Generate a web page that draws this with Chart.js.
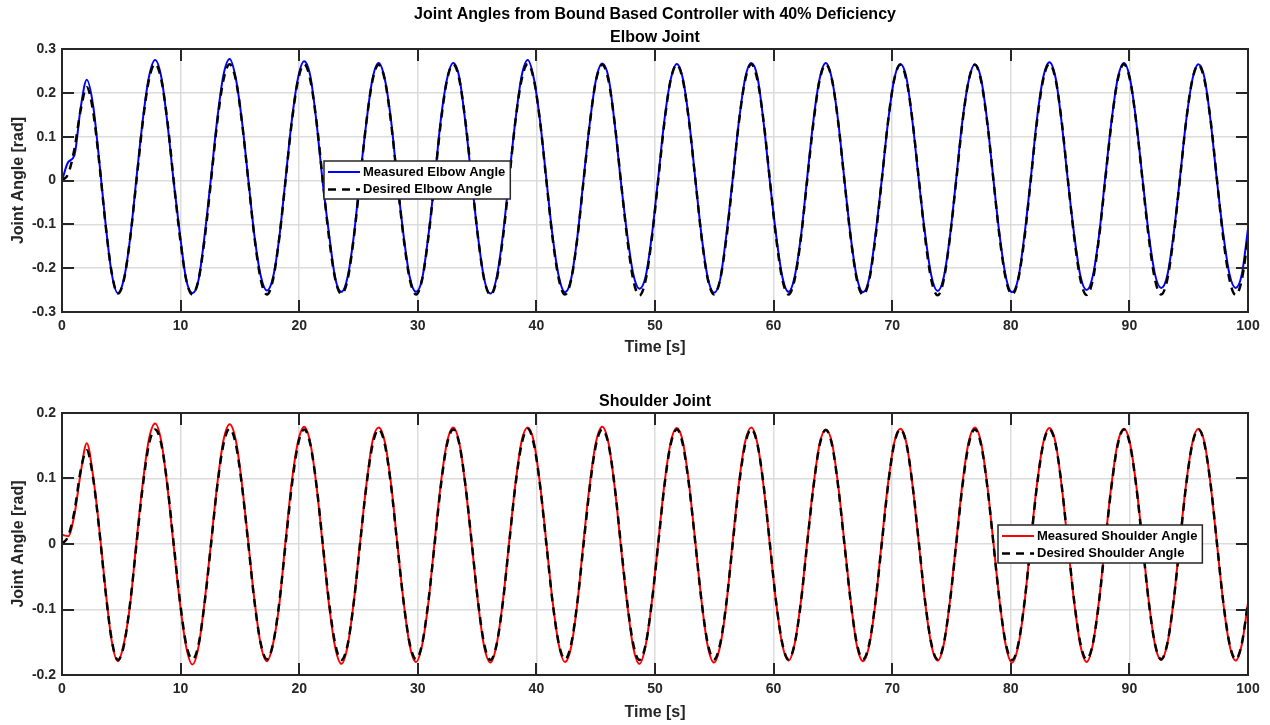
<!DOCTYPE html>
<html>
<head>
<meta charset="utf-8">
<script src="https://cdn.jsdelivr.net/npm/chart.js@4.4.1/dist/chart.umd.min.js"></script>
<style>
  body { margin: 0; background: #fff; width: 1270px; height: 725px; overflow: hidden; }
  .panel { position: absolute; left: 0; width: 1270px; }
  #top { top: 0; height: 365px; }
  #bottom { top: 365px; height: 360px; }
</style>
</head>
<body>
<div class="panel" id="top"><canvas id="elbowChart" width="1270" height="365"></canvas></div>
<div class="panel" id="bottom"><canvas id="shoulderChart" width="1270" height="360"></canvas></div>
<script>
// sample times [s], 12 samples per cycle
const time = [
  0, 0.52, 1.05, 1.57, 2.09, 2.62, 3.14, 3.67, 4.19, 4.71, 5.24, 5.76,
  6.28, 6.81, 7.33, 7.85, 8.38, 8.90, 9.42, 9.95, 10.47, 11.00, 11.52, 12.04,
  12.57, 13.09, 13.61, 14.14, 14.66, 15.18, 15.71, 16.23, 16.76, 17.28, 17.80, 18.33,
  18.85, 19.37, 19.90, 20.42, 20.94, 21.47, 21.99, 22.51, 23.04, 23.56, 24.09, 24.61,
  25.13, 25.66, 26.18, 26.70, 27.23, 27.75, 28.27, 28.80, 29.32, 29.85, 30.37, 30.89,
  31.42, 31.94, 32.46, 32.99, 33.51, 34.03, 34.56, 35.08, 35.60, 36.13, 36.65, 37.18,
  37.70, 38.22, 38.75, 39.27, 39.79, 40.32, 40.84, 41.36, 41.89, 42.41, 42.94, 43.46,
  43.98, 44.51, 45.03, 45.55, 46.08, 46.60, 47.12, 47.65, 48.17, 48.69, 49.22, 49.74,
  50.27, 50.79, 51.31, 51.84, 52.36, 52.88, 53.41, 53.93, 54.45, 54.98, 55.50, 56.03,
  56.55, 57.07, 57.60, 58.12, 58.64, 59.17, 59.69, 60.21, 60.74, 61.26, 61.78, 62.31,
  62.83, 63.36, 63.88, 64.40, 64.93, 65.45, 65.97, 66.50, 67.02, 67.54, 68.07, 68.59,
  69.12, 69.64, 70.16, 70.69, 71.21, 71.73, 72.26, 72.78, 73.30, 73.83, 74.35, 74.87,
  75.40, 75.92, 76.45, 76.97, 77.49, 78.02, 78.54, 79.06, 79.59, 80.11, 80.63, 81.16,
  81.68, 82.20, 82.73, 83.25, 83.78, 84.30, 84.82, 85.35, 85.87, 86.39, 86.92, 87.44,
  87.96, 88.49, 89.01, 89.54, 90.06, 90.58, 91.11, 91.63, 92.15, 92.68, 93.20, 93.72,
  94.25, 94.77, 95.30, 95.82, 96.34, 96.87, 97.39, 97.91, 98.44, 98.96, 99.48, 100.00
];

const elbowMeasured = [
  0.000, 0.042, 0.058, 0.165, 0.230, 0.172, 0.045, -0.098, -0.212, -0.257, -0.222, -0.128,
  0.006, 0.138, 0.236, 0.275, 0.235, 0.128, -0.004, -0.124, -0.226, -0.257, -0.226, -0.122,
  0.008, 0.140, 0.240, 0.277, 0.232, 0.134, 0.002, -0.127, -0.218, -0.251, -0.220, -0.128,
  0.004, 0.136, 0.234, 0.272, 0.238, 0.130, -0.006, -0.121, -0.223, -0.254, -0.219, -0.125,
  0.006, 0.132, 0.232, 0.268, 0.230, 0.136, 0.000, -0.125, -0.220, -0.254, -0.224, -0.126,
  0.002, 0.139, 0.231, 0.268, 0.234, 0.128, -0.004, -0.129, -0.225, -0.258, -0.221, -0.123,
  0.007, 0.135, 0.238, 0.275, 0.232, 0.133, 0.003, -0.126, -0.219, -0.255, -0.223, -0.127,
  0.004, 0.133, 0.231, 0.267, 0.235, 0.130, -0.002, -0.122, -0.214, -0.247, -0.218, -0.124,
  0.006, 0.137, 0.229, 0.266, 0.231, 0.135, 0.001, -0.127, -0.222, -0.256, -0.225, -0.121,
  0.003, 0.134, 0.233, 0.268, 0.236, 0.129, -0.003, -0.124, -0.220, -0.254, -0.219, -0.126,
  0.006, 0.138, 0.232, 0.268, 0.230, 0.134, 0.002, -0.128, -0.221, -0.255, -0.222, -0.123,
  0.002, 0.132, 0.230, 0.266, 0.233, 0.130, -0.004, -0.123, -0.217, -0.252, -0.220, -0.127,
  0.005, 0.136, 0.228, 0.265, 0.232, 0.133, 0.001, -0.126, -0.221, -0.255, -0.223, -0.122,
  0.004, 0.139, 0.235, 0.270, 0.234, 0.129, -0.002, -0.125, -0.218, -0.250, -0.217, -0.125,
  0.006, 0.135, 0.232, 0.268, 0.231, 0.134, 0.003, -0.122, -0.213, -0.245, -0.216, -0.124,
  0.003, 0.133, 0.229, 0.265, 0.233, 0.130, -0.002, -0.121, -0.214, -0.245, -0.214, -0.110
];

const elbowDesired = [
  0.000, 0.015, 0.072, 0.160, 0.213, 0.158, 0.041, -0.100, -0.210, -0.258, -0.224, -0.129,
  0.000, 0.133, 0.230, 0.266, 0.229, 0.132, -0.001, -0.130, -0.226, -0.260, -0.225, -0.130,
  0.001, 0.133, 0.229, 0.265, 0.229, 0.132, 0.000, -0.130, -0.226, -0.260, -0.225, -0.129,
  0.000, 0.132, 0.229, 0.265, 0.229, 0.132, 0.000, -0.129, -0.225, -0.259, -0.225, -0.129,
  0.000, 0.132, 0.228, 0.264, 0.228, 0.131, 0.000, -0.130, -0.225, -0.260, -0.225, -0.130,
  0.000, 0.132, 0.229, 0.265, 0.229, 0.132, 0.000, -0.130, -0.226, -0.261, -0.226, -0.130,
  0.000, 0.133, 0.230, 0.266, 0.230, 0.132, 0.000, -0.130, -0.225, -0.260, -0.225, -0.130,
  0.000, 0.132, 0.229, 0.264, 0.228, 0.131, 0.000, -0.130, -0.227, -0.262, -0.226, -0.130,
  0.000, 0.132, 0.228, 0.264, 0.228, 0.132, 0.000, -0.130, -0.225, -0.260, -0.225, -0.129,
  0.000, 0.132, 0.229, 0.265, 0.229, 0.132, 0.000, -0.130, -0.226, -0.260, -0.225, -0.130,
  0.000, 0.132, 0.229, 0.265, 0.229, 0.132, 0.000, -0.130, -0.226, -0.261, -0.226, -0.130,
  0.000, 0.132, 0.229, 0.264, 0.228, 0.132, 0.000, -0.131, -0.227, -0.262, -0.226, -0.130,
  0.000, 0.132, 0.228, 0.264, 0.228, 0.131, 0.000, -0.130, -0.226, -0.260, -0.225, -0.130,
  0.000, 0.133, 0.230, 0.266, 0.230, 0.133, 0.000, -0.130, -0.226, -0.261, -0.226, -0.130,
  0.000, 0.132, 0.229, 0.265, 0.229, 0.132, 0.000, -0.130, -0.225, -0.260, -0.225, -0.130,
  0.000, 0.132, 0.229, 0.264, 0.228, 0.132, 0.000, -0.130, -0.226, -0.261, -0.226, -0.130
];

const shoulderMeasured = [
  0.014, 0.012, 0.045, 0.108, 0.154, 0.104, 0.024, -0.070, -0.148, -0.179, -0.150, -0.090,
  0.004, 0.093, 0.160, 0.184, 0.156, 0.085, -0.004, -0.091, -0.157, -0.184, -0.156, -0.085,
  0.003, 0.091, 0.158, 0.183, 0.158, 0.090, 0.002, -0.086, -0.154, -0.179, -0.152, -0.091,
  0.005, 0.094, 0.156, 0.179, 0.154, 0.087, -0.003, -0.092, -0.158, -0.183, -0.155, -0.087,
  0.002, 0.090, 0.157, 0.178, 0.155, 0.091, 0.001, -0.088, -0.155, -0.180, -0.154, -0.090,
  0.004, 0.092, 0.155, 0.178, 0.153, 0.086, -0.002, -0.090, -0.157, -0.181, -0.153, -0.086,
  0.003, 0.090, 0.157, 0.178, 0.156, 0.089, 0.002, -0.087, -0.154, -0.180, -0.156, -0.089,
  0.005, 0.093, 0.156, 0.179, 0.154, 0.087, -0.003, -0.091, -0.158, -0.183, -0.154, -0.087,
  0.002, 0.091, 0.154, 0.177, 0.155, 0.090, 0.001, -0.088, -0.156, -0.181, -0.155, -0.090,
  0.004, 0.092, 0.156, 0.178, 0.153, 0.086, -0.002, -0.089, -0.154, -0.178, -0.152, -0.086,
  0.003, 0.089, 0.153, 0.175, 0.154, 0.089, 0.002, -0.087, -0.155, -0.179, -0.154, -0.089,
  0.004, 0.091, 0.154, 0.176, 0.153, 0.087, -0.002, -0.090, -0.154, -0.178, -0.153, -0.087,
  0.003, 0.092, 0.156, 0.178, 0.155, 0.089, 0.001, -0.088, -0.156, -0.181, -0.155, -0.089,
  0.004, 0.090, 0.154, 0.177, 0.154, 0.087, -0.002, -0.090, -0.155, -0.180, -0.153, -0.086,
  0.003, 0.091, 0.154, 0.176, 0.153, 0.089, 0.002, -0.087, -0.153, -0.177, -0.152, -0.088,
  0.004, 0.090, 0.154, 0.176, 0.154, 0.087, -0.001, -0.089, -0.154, -0.178, -0.153, -0.090
];

const shoulderDesired = [
  0.000, 0.012, 0.050, 0.112, 0.143, 0.101, 0.022, -0.072, -0.146, -0.177, -0.153, -0.088,
  0.000, 0.088, 0.152, 0.175, 0.152, 0.088, 0.000, -0.088, -0.153, -0.176, -0.153, -0.088,
  0.000, 0.088, 0.152, 0.176, 0.152, 0.088, 0.000, -0.088, -0.152, -0.176, -0.152, -0.088,
  0.000, 0.088, 0.152, 0.175, 0.152, 0.088, 0.000, -0.088, -0.153, -0.177, -0.153, -0.088,
  0.000, 0.088, 0.151, 0.175, 0.151, 0.088, 0.000, -0.088, -0.152, -0.176, -0.152, -0.088,
  0.000, 0.088, 0.152, 0.175, 0.152, 0.088, 0.000, -0.088, -0.153, -0.177, -0.153, -0.088,
  0.000, 0.088, 0.152, 0.176, 0.152, 0.088, 0.000, -0.088, -0.152, -0.176, -0.152, -0.088,
  0.000, 0.088, 0.152, 0.175, 0.152, 0.088, 0.000, -0.088, -0.153, -0.177, -0.153, -0.088,
  0.000, 0.088, 0.151, 0.175, 0.151, 0.088, 0.000, -0.088, -0.152, -0.176, -0.152, -0.088,
  0.000, 0.088, 0.152, 0.175, 0.152, 0.088, 0.000, -0.088, -0.152, -0.176, -0.152, -0.088,
  0.000, 0.087, 0.151, 0.174, 0.151, 0.087, 0.000, -0.088, -0.152, -0.176, -0.152, -0.088,
  0.000, 0.088, 0.152, 0.175, 0.152, 0.088, 0.000, -0.088, -0.152, -0.176, -0.152, -0.088,
  0.000, 0.088, 0.152, 0.175, 0.152, 0.088, 0.000, -0.088, -0.153, -0.177, -0.153, -0.088,
  0.000, 0.088, 0.152, 0.175, 0.152, 0.088, 0.000, -0.088, -0.152, -0.176, -0.152, -0.088,
  0.000, 0.088, 0.151, 0.175, 0.151, 0.088, 0.000, -0.088, -0.152, -0.176, -0.152, -0.088,
  0.000, 0.088, 0.152, 0.175, 0.152, 0.088, 0.000, -0.088, -0.152, -0.176, -0.152, -0.089
];

const timeTicks = [0, 10, 20, 30, 40, 50, 60, 70, 80, 90, 100];
const elbowTicks = [-0.3, -0.2, -0.1, 0, 0.1, 0.2, 0.3];
const shoulderTicks = [-0.2, -0.1, 0, 0.1, 0.2];

const FONT = "'Liberation Sans', Arial, Helvetica, sans-serif";
const AXIS_COLOR = '#262626';
const GRID_COLOR = '#dcdcdc';

Chart.defaults.font.family = FONT;

// MATLAB-like box, inward ticks, titles and legend
const matlabAxes = {
    id: 'matlabAxes',
    afterDatasetsDraw(chart, args, opts) {
        const { ctx, chartArea: a, scales: { x, y } } = chart;
        ctx.save();
        ctx.strokeStyle = AXIS_COLOR;
        ctx.lineWidth = 2;
        ctx.beginPath();
        x.ticks.forEach(t => {
            const px = Math.round(x.getPixelForValue(t.value));
            ctx.moveTo(px, a.bottom); ctx.lineTo(px, a.bottom - 12);
            ctx.moveTo(px, a.top); ctx.lineTo(px, a.top + 12);
        });
        y.ticks.forEach(t => {
            const py = Math.round(y.getPixelForValue(t.value));
            ctx.moveTo(a.left, py); ctx.lineTo(a.left + 12, py);
            ctx.moveTo(a.right, py); ctx.lineTo(a.right - 12, py);
        });
        ctx.stroke();
        ctx.strokeRect(a.left, a.top, a.right - a.left, a.bottom - a.top);
        ctx.restore();
    },
    afterDraw(chart, args, opts) {
        const { ctx, chartArea: a } = chart;
        ctx.save();
        // titles
        ctx.fillStyle = '#000';
        ctx.font = 'bold 16px ' + FONT;
        ctx.textAlign = 'center';
        ctx.textBaseline = 'middle';
        const cx = (a.left + a.right) / 2;
        opts.titles.forEach(t => ctx.fillText(t.text, cx, t.y));

        // legend
        const lg = opts.legend;
        ctx.font = 'bold 13px ' + FONT;
        const textW = Math.max(...lg.items.map(it => ctx.measureText(it.label).width));
        const bx = a.left + lg.dx, by = a.top + lg.dy;
        const bw = 39 + textW + 5, bh = 38;
        ctx.fillStyle = '#fff';
        ctx.fillRect(bx, by, bw, bh);
        ctx.strokeStyle = AXIS_COLOR;
        ctx.lineWidth = 1.5;
        ctx.strokeRect(bx, by, bw, bh);
        lg.items.forEach((it, i) => {
            const ry = by + 11 + i * 17.5;
            ctx.strokeStyle = it.color;
            ctx.lineWidth = it.width;
            ctx.setLineDash(it.dash);
            ctx.beginPath();
            ctx.moveTo(bx + 4, ry);
            ctx.lineTo(bx + 36, ry);
            ctx.stroke();
            ctx.setLineDash([]);
            ctx.fillStyle = '#000';
            ctx.textAlign = 'left';
            ctx.textBaseline = 'middle';
            ctx.fillText(it.label, bx + 39, ry);
        });
        ctx.restore();
    }
};

function series(values) {
    return time.map((t, i) => ({ x: t, y: values[i] }));
}

function makeChart(id, cfg) {
    return new Chart(document.getElementById(id), {
        type: 'line',
        data: {
            datasets: [{
                label: cfg.measuredLabel,
                data: series(cfg.measured),
                borderColor: cfg.color,
                borderWidth: 2,
                order: 1
            }, {
                label: cfg.desiredLabel,
                data: series(cfg.desired),
                borderColor: '#000',
                borderWidth: 2.5,
                borderDash: [8, 6],
                order: 0
            }]
        },
        options: {
            responsive: false,
            animation: false,
            events: [],
            elements: {
                point: { radius: 0 },
                line: { cubicInterpolationMode: 'monotone', fill: false }
            },
            layout: { padding: cfg.padding },
            plugins: {
                legend: { display: false },
                tooltip: { enabled: false },
                matlabAxes: { titles: cfg.titles, legend: cfg.legend }
            },
            scales: {
                x: {
                    type: 'linear',
                    min: 0,
                    max: 100,
                    afterBuildTicks: s => { s.ticks = timeTicks.map(v => ({ value: v })); },
                    afterFit: s => { s.height = cfg.xHeight; },
                    grid: { color: GRID_COLOR, lineWidth: 1.5, drawTicks: false },
                    border: { display: false },
                    ticks: {
                        color: AXIS_COLOR,
                        font: { size: 14, weight: 'bold' },
                        padding: 6,
                        maxRotation: 0,
                        autoSkip: false,
                        callback: v => String(v)
                    },
                    title: {
                        display: true,
                        text: 'Time [s]',
                        color: AXIS_COLOR,
                        font: { size: 16, weight: 'bold' },
                        padding: { top: 0, bottom: 0 }
                    }
                },
                y: {
                    type: 'linear',
                    min: cfg.yTicks[0],
                    max: cfg.yTicks[cfg.yTicks.length - 1],
                    afterBuildTicks: s => { s.ticks = cfg.yTicks.map(v => ({ value: v })); },
                    afterFit: s => { s.width = 62; },
                    grid: { color: GRID_COLOR, lineWidth: 1.5, drawTicks: false },
                    border: { display: false },
                    ticks: {
                        color: AXIS_COLOR,
                        font: { size: 14, weight: 'bold' },
                        padding: 6,
                        autoSkip: false,
                        callback: v => String(v)
                    },
                    title: {
                        display: true,
                        text: 'Joint Angle [rad]',
                        color: AXIS_COLOR,
                        font: { size: 16, weight: 'bold' },
                        padding: { top: 9, bottom: 0 }
                    }
                }
            }
        },
        plugins: [matlabAxes]
    });
}

makeChart('elbowChart', {
    measured: elbowMeasured,
    desired: elbowDesired,
    measuredLabel: 'Measured Elbow Angle',
    desiredLabel: 'Desired Elbow Angle',
    color: '#0000ff',
    yTicks: elbowTicks,
    xHeight: 45,
    padding: { top: 49, right: 22, bottom: 8, left: 0 },
    titles: [
        { text: 'Joint Angles from Bound Based Controller with 40% Deficiency', y: 15 },
        { text: 'Elbow Joint', y: 38 }
    ],
    legend: {
        dx: 262, dy: 112,
        items: [
            { label: 'Measured Elbow Angle', color: '#0000ff', width: 2, dash: [] },
            { label: 'Desired Elbow Angle', color: '#000', width: 2.5, dash: [8, 6] }
        ]
    }
});

makeChart('shoulderChart', {
    measured: shoulderMeasured,
    desired: shoulderDesired,
    measuredLabel: 'Measured Shoulder Angle',
    desiredLabel: 'Desired Shoulder Angle',
    color: '#ff0000',
    yTicks: shoulderTicks,
    xHeight: 47,
    padding: { top: 48, right: 22, bottom: 3, left: 0 },
    titles: [
        { text: 'Shoulder Joint', y: 37 }
    ],
    legend: {
        dx: 936, dy: 112,
        items: [
            { label: 'Measured Shoulder Angle', color: '#ff0000', width: 2, dash: [] },
            { label: 'Desired Shoulder Angle', color: '#000', width: 2.5, dash: [8, 6] }
        ]
    }
});
</script>
</body>
</html>
